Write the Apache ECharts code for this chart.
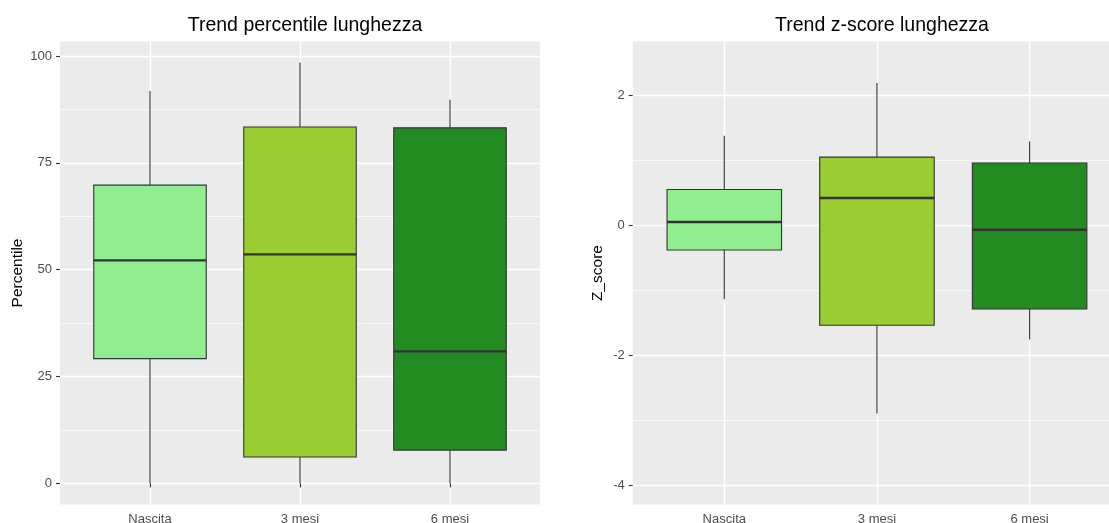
<!DOCTYPE html>
<html>
<head>
<meta charset="utf-8">
<script src="https://cdn.jsdelivr.net/npm/echarts/dist/echarts.min.js"></script>
<style>
html,body{margin:0;padding:0;background:#ffffff;}
#chart{width:1109px;height:523px;}
</style>
</head>
<body>
<div id="chart"></div>
<script>
// ---- data ----
const categories = ['Nascita', '3 mesi', '6 mesi'];
const boxColors = ['#90EE90', '#9ACD32', '#228B22'];

// Percentile panel (min, Q1, median, Q3, max of whiskers)
const percMin = [0, 0, 0];
const percQ1  = [29.2, 6.2, 7.8];
const percMed = [52.2, 53.6, 30.9];
const percQ3  = [69.8, 83.4, 83.2];
const percMax = [91.8, 98.5, 89.8];

// Z-score panel
const zMin = [-1.14, -2.90, -1.76];
const zQ1  = [-0.38, -1.54, -1.29];
const zMed = [0.05, 0.42, -0.07];
const zQ3  = [0.55, 1.05, 0.96];
const zMax = [1.38, 2.19, 1.29];

// tick labels
const percTicks = [0, 25, 50, 75, 100];
const percMinor = [12.5, 37.5, 62.5, 87.5];
const zTicks = [-4, -2, 0, 2];
const zMinor = [-3, -1, 1];
const catPos = [1, 2, 3];

// ---- build ----
function rows(mn, q1, md, q3, mx) {
  return categories.map((c, i) => [catPos[i], mn[i], q1[i], md[i], q3[i], mx[i], i]);
}

const FONT = "'Liberation Sans', Arial, sans-serif";
const DARK = '#333333';

function renderBox(params, api) {
  const x = api.value(0);
  const half = api.size([0.75, 0])[0] / 2;
  const pMin = api.coord([x, api.value(1)]);
  const pQ1 = api.coord([x, api.value(2)]);
  const pMed = api.coord([x, api.value(3)]);
  const pQ3 = api.coord([x, api.value(4)]);
  const pMax = api.coord([x, api.value(5)]);
  const col = boxColors[api.value(6)];
  return {
    type: 'group',
    children: [
      { type: 'line', shape: { x1: pQ3[0], y1: pQ3[1], x2: pMax[0], y2: pMax[1] },
        style: { stroke: DARK, lineWidth: 1.1 } },
      { type: 'line', shape: { x1: pQ1[0], y1: pQ1[1], x2: pMin[0], y2: pMin[1] },
        style: { stroke: DARK, lineWidth: 1.1 } },
      { type: 'rect', shape: { x: pQ3[0] - half, y: pQ3[1], width: half * 2, height: pQ1[1] - pQ3[1] },
        style: { fill: col, stroke: DARK, lineWidth: 1.1 } },
      { type: 'line', shape: { x1: pMed[0] - half, y1: pMed[1], x2: pMed[0] + half, y2: pMed[1] },
        style: { stroke: DARK, lineWidth: 2.4 } }
    ]
  };
}

function xAxisFor(gridIndex) {
  return {
    type: 'value', gridIndex: gridIndex, min: 0.4, max: 3.6, position: 'bottom',
    axisLine: { show: false },
    axisTick: { show: true, customValues: catPos, length: 4, lineStyle: { color: DARK, width: 1.1 } },
    axisLabel: { customValues: catPos, formatter: v => categories[Math.round(v) - 1],
      color: '#4D4D4D', fontSize: 13, fontFamily: FONT, margin: 8 },
    splitLine: { show: true, lineStyle: { color: '#ffffff', width: 1.3 } }
  };
}

function yMajor(gridIndex, min, max, ticks, name, gap) {
  return {
    type: 'value', gridIndex: gridIndex, min: min, max: max, position: 'left',
    name: name, nameLocation: 'middle', nameRotate: 90, nameGap: gap,
    nameTextStyle: { color: '#000000', fontSize: 15.5, fontFamily: FONT },
    axisLine: { show: false },
    axisTick: { show: true, customValues: ticks, length: 4, lineStyle: { color: DARK, width: 1.1 } },
    axisLabel: { customValues: ticks, color: '#4D4D4D', fontSize: 13, fontFamily: FONT, margin: 8 },
    splitLine: { show: true, lineStyle: { color: '#ffffff', width: 1.3 } }
  };
}

function yMinor(gridIndex, min, max, ticks) {
  return {
    type: 'value', gridIndex: gridIndex, min: min, max: max, position: 'left',
    axisLine: { show: false },
    axisTick: { show: false, customValues: ticks },
    axisLabel: { show: false, customValues: ticks },
    splitLine: { show: true, lineStyle: { color: '#ffffff', width: 0.7 } }
  };
}

const chart = echarts.init(document.getElementById('chart'), null, { renderer: 'canvas' });
chart.setOption({
  animation: false,
  backgroundColor: '#ffffff',
  title: [
    { text: 'Trend percentile lunghezza', left: 300, textAlign: 'center', top: 11,
      textStyle: { color: '#000000', fontSize: 19.5, fontWeight: 'normal', fontFamily: FONT } },
    { text: 'Trend z-score lunghezza', left: 877, textAlign: 'center', top: 11,
      textStyle: { color: '#000000', fontSize: 19.5, fontWeight: 'normal', fontFamily: FONT } }
  ],
  grid: [
    { left: 60, top: 41.5, width: 480, height: 463, show: true, backgroundColor: '#EBEBEB', borderWidth: 0,
      containLabel: false, outerBoundsMode: 'none' },
    { left: 632.7, top: 41.5, width: 488.5, height: 463, show: true, backgroundColor: '#EBEBEB', borderWidth: 0,
      containLabel: false, outerBoundsMode: 'none' }
  ],
  xAxis: [xAxisFor(0), xAxisFor(1)],
  yAxis: [
    yMinor(0, -4.93, 103.4, percMinor),
    yMajor(0, -4.93, 103.4, percTicks, 'Percentile', 34),
    yMinor(1, -4.30, 2.83, zMinor),
    yMajor(1, -4.30, 2.83, zTicks, 'Z_score', 27)
  ],
  series: [
    { type: 'custom', xAxisIndex: 0, yAxisIndex: 1, renderItem: renderBox,
      encode: { x: 0, y: [1, 2, 3, 4, 5] },
      data: rows(percMin, percQ1, percMed, percQ3, percMax), z: 5 },
    { type: 'custom', xAxisIndex: 1, yAxisIndex: 3, renderItem: renderBox,
      encode: { x: 0, y: [1, 2, 3, 4, 5] },
      data: rows(zMin, zQ1, zMed, zQ3, zMax), z: 5 }
  ]
});
</script>
</body>
</html>
